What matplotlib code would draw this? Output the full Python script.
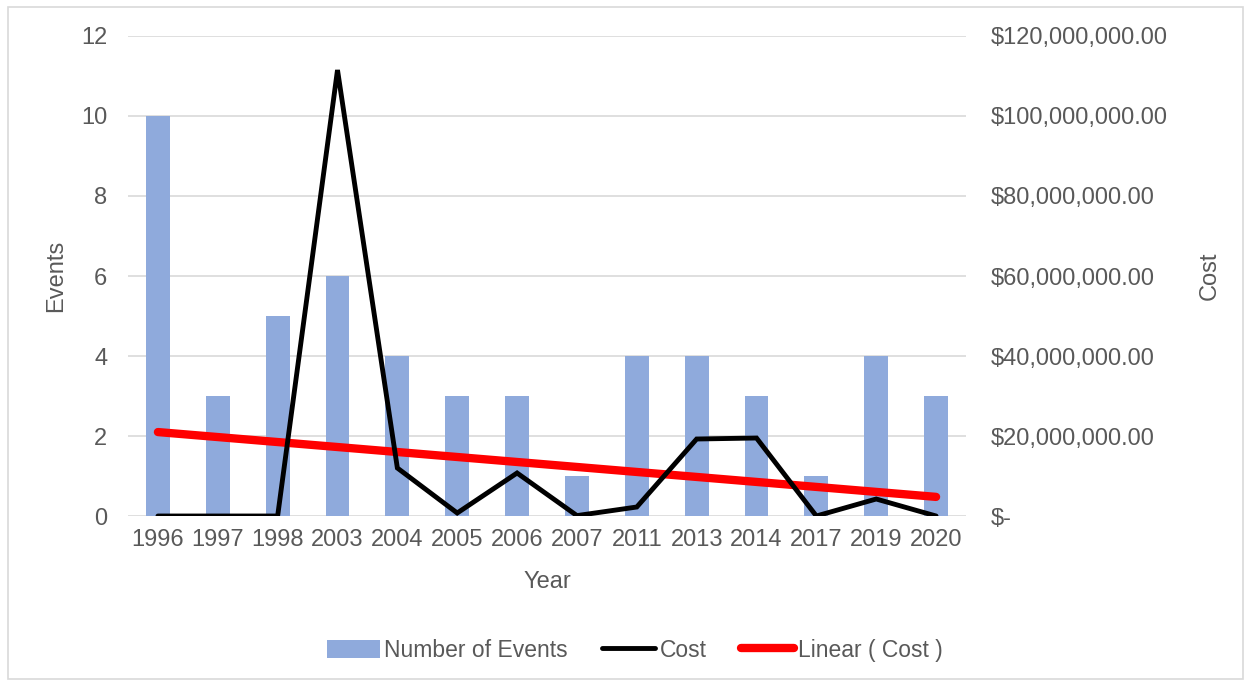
import matplotlib
matplotlib.use("Agg")
import matplotlib.pyplot as plt
import numpy as np
from matplotlib.patches import Rectangle
from matplotlib.lines import Line2D
from matplotlib.ticker import FuncFormatter

plt.rcParams['font.family'] = ['Liberation Sans', 'DejaVu Sans']

years = ['1996', '1997', '1998', '2003', '2004', '2005', '2006', '2007',
         '2011', '2013', '2014', '2017', '2019', '2020']
events = [10, 3, 5, 6, 4, 3, 3, 1, 4, 4, 3, 1, 4, 3]
cost = [0, 0, 0, 111_500_000, 12_000_000, 750_000, 10_750_000, 100_000,
        2_250_000, 19_250_000, 19_500_000, 0, 4_250_000, 0]

TXT = '#595959'
GRID = '#D9D9D9'
BAR = '#8FAADC'
FS = 17

fig = plt.figure(figsize=(12.5, 6.83), dpi=100)
fig.patches.append(Rectangle((0.006, 0.006), 0.988, 0.984, transform=fig.transFigure,
                             fill=False, edgecolor=GRID, linewidth=1.2))

ax = fig.add_axes([0.1024, 0.2445, 0.6704, 0.7028])
x = np.arange(len(years))
ax.bar(x, events, width=0.4, color=BAR, zorder=2, label='Number of Events')
ax.set_ylim(0, 12)
ax.set_yticks(range(0, 13, 2))
ax.set_xlim(-0.5, len(years) - 0.5)
ax.set_xticks(x)
ax.set_xticklabels(years)
ax.grid(axis='y', color=GRID, linewidth=1.2, zorder=0)
ax.set_axisbelow(True)
for s in ax.spines.values():
    s.set_visible(False)
ax.tick_params(axis='both', length=0, labelsize=FS, colors=TXT)
ax.tick_params(axis='x', pad=9)
ax.tick_params(axis='y', pad=15)
ax.set_xlabel('Year', fontsize=FS, color=TXT, labelpad=15)
ax.set_ylabel('Events', fontsize=FS, color=TXT, labelpad=10)

ax2 = ax.twinx()
ax2.set_ylim(0, 120_000_000)
ax2.set_yticks(np.arange(0, 120_000_001, 20_000_000))
ax2.yaxis.set_major_formatter(FuncFormatter(
    lambda v, p: '$-' if v == 0 else f'${v:,.2f}'))
for s in ax2.spines.values():
    s.set_visible(False)
ax2.tick_params(axis='y', length=0, labelsize=FS, colors=TXT, pad=18)
ax2.set_ylabel('Cost', fontsize=FS, color=TXT, labelpad=22)

coef = np.polyfit(x, cost, 1)
trend = np.polyval(coef, x)
ax2.plot(x, trend, color='#FF0000', linewidth=6, solid_capstyle='round', zorder=3)
ax2.plot(x, cost, color='black', linewidth=3.5, solid_capstyle='round',
         solid_joinstyle='miter', zorder=4)

handles = [
    Rectangle((0, 0), 1, 1, facecolor=BAR, edgecolor='none'),
    Line2D([], [], color='black', linewidth=3.5, solid_capstyle='round'),
    Line2D([], [], color='#FF0000', linewidth=6, solid_capstyle='round'),
]
labels = ['Number of Events', 'Cost', 'Linear ( Cost )']
leg = fig.legend(handles, labels, loc='center', bbox_to_anchor=(0.508, 0.048), ncol=3,
                 frameon=False, fontsize=16.5, handlelength=2.3, handletextpad=0.2,
                 columnspacing=1.5, handleheight=0.8)
for t in leg.get_texts():
    t.set_color(TXT)

fig.savefig('out.png', dpi=100)
